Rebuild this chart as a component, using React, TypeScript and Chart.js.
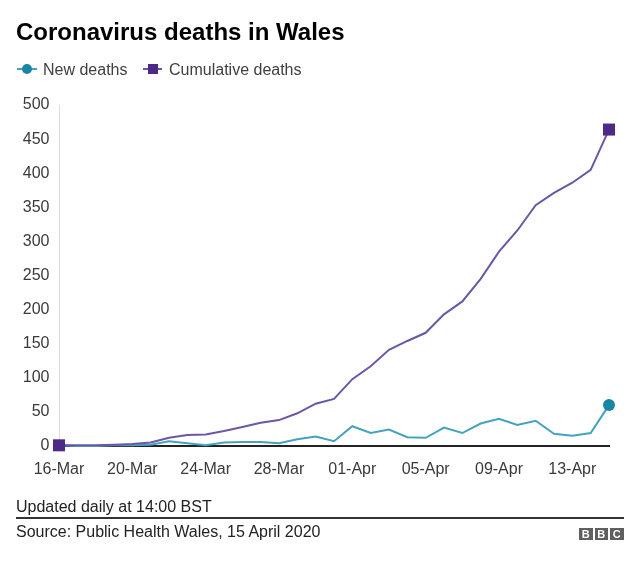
import React, { useEffect, useRef } from "react";
import { Chart, registerables } from "chart.js";

Chart.register(...registerables);

const dates: string[] = [
  "16-Mar", "17-Mar", "18-Mar", "19-Mar", "20-Mar", "21-Mar", "22-Mar", "23-Mar",
  "24-Mar", "25-Mar", "26-Mar", "27-Mar", "28-Mar", "29-Mar", "30-Mar", "31-Mar",
  "01-Apr", "02-Apr", "03-Apr", "04-Apr", "05-Apr", "06-Apr", "07-Apr", "08-Apr",
  "09-Apr", "10-Apr", "11-Apr", "12-Apr", "13-Apr", "14-Apr", "15-Apr",
];

const newDeaths: number[] = [
  1, 0, 0, 1, 1, 2, 7, 4, 1, 5, 6, 6, 4, 10, 14, 7,
  29, 19, 24, 13, 12, 27, 19, 33, 40, 31, 37, 18, 15, 19, 60,
];

const cumulativeDeaths: number[] = [
  1, 1, 1, 2, 3, 5, 12, 16, 17, 22, 28, 34, 38, 48, 62, 69,
  98, 117, 141, 154, 166, 193, 212, 245, 285, 316, 353, 371, 386, 405, 464,
];

const yTicks: number[] = [0, 50, 100, 150, 200, 250, 300, 350, 400, 450, 500];

const TEAL_LINE = "#43a3bf";
const TEAL_MARK = "#1a86a6";
const PURPLE_LINE = "#6c57a6";
const PURPLE_MARK = "#4d2a85";
const FONT = "'Liberation Sans', Arial, Helvetica, sans-serif";

export default function App() {
  const ref = useRef<HTMLCanvasElement | null>(null);

  useEffect(() => {
    if (!ref.current) return;
    const last = dates.length - 1;
    const chart = new Chart(ref.current, {
      type: "line",
      data: {
        labels: dates,
        datasets: [
          {
            label: "Cumulative deaths",
            data: cumulativeDeaths,
            borderColor: PURPLE_LINE,
            backgroundColor: PURPLE_MARK,
            borderWidth: 2,
            tension: 0,
            pointStyle: "rect",
            pointRadius: dates.map((_, i) => (i === 0 || i === last ? 8.5 : 0)),
            pointBorderWidth: 0,
            pointBackgroundColor: PURPLE_MARK,
            clip: false,
          } as any,
          {
            label: "New deaths",
            data: newDeaths,
            borderColor: TEAL_LINE,
            backgroundColor: TEAL_MARK,
            borderWidth: 2,
            tension: 0,
            pointStyle: "circle",
            pointRadius: dates.map((_, i) => (i === last ? 6 : 0)),
            pointBorderWidth: 0,
            pointBackgroundColor: TEAL_MARK,
            clip: false,
          } as any,
        ],
      },
      options: {
        animation: false,
        responsive: false,
        layout: { padding: { left: 0, top: 105, right: 31, bottom: 76 } },
        plugins: {
          legend: { display: false },
          title: { display: false },
          tooltip: { enabled: false },
        },
        scales: {
          x: {
            grid: { display: false, drawTicks: false },
            border: { display: true, color: "#222222", width: 2 },
            ticks: {
              autoSkip: false,
              maxRotation: 0,
              padding: 14,
              color: "#3a3a3a",
              font: { family: FONT, size: 16 },
              callback: (_v: any, i: number) => (i % 4 === 0 ? dates[i] : ""),
            },
            afterFit: (s: any) => {
              s.height = 40;
            },
          },
          y: {
            min: 0,
            max: 500,
            grid: { display: false, drawTicks: false },
            border: { display: true, color: "#dddddd", width: 1 },
            afterBuildTicks: (s: any) => {
              s.ticks = yTicks.map((v) => ({ value: v }));
            },
            ticks: {
              padding: 9.5,
              color: "#3a3a3a",
              font: { family: FONT, size: 16 },
            },
            afterFit: (s: any) => {
              s.width = 59;
            },
          },
        },
      },
    });
    return () => chart.destroy();
  }, []);

  const text = (
    top: number,
    left: number,
    size: number,
    content: string,
    extra: React.CSSProperties = {}
  ) => (
    <div
      style={{
        position: "absolute",
        top,
        left,
        fontFamily: FONT,
        fontSize: size,
        lineHeight: `${size}px`,
        whiteSpace: "nowrap",
        color: "#222",
        ...extra,
      }}
    >
      {content}
    </div>
  );

  return (
    <div
      style={{
        position: "absolute",
        left: 0,
        top: 0,
        width: 640,
        height: 562,
        background: "#fff",
        overflow: "hidden",
      }}
    >
      <canvas
        ref={ref}
        width={640}
        height={562}
        style={{ position: "absolute", left: 0, top: 0, width: 640, height: 562 }}
      />
      {text(19.7, 16, 24, "Coronavirus deaths in Wales", { fontWeight: "bold", color: "#000" })}

      {/* legend */}
      <div style={{ position: "absolute", left: 17, top: 67.5, width: 20, height: 2, background: TEAL_LINE }} />
      <div
        style={{
          position: "absolute",
          left: 22,
          top: 63.5,
          width: 10,
          height: 10,
          borderRadius: 5,
          background: TEAL_MARK,
        }}
      />
      {text(61.5, 43, 16, "New deaths", { color: "#404040" })}
      <div style={{ position: "absolute", left: 143, top: 68, width: 19, height: 2, background: PURPLE_LINE }} />
      <div
        style={{
          position: "absolute",
          left: 147.5,
          top: 64,
          width: 10,
          height: 10,
          background: PURPLE_MARK,
        }}
      />
      {text(61.5, 169, 16, "Cumulative deaths", { color: "#404040" })}

      {/* footer */}
      {text(498.5, 16, 16, "Updated daily at 14:00 BST")}
      <div style={{ position: "absolute", left: 16, top: 516.7, width: 608, height: 2, background: "#333" }} />
      {text(523.5, 16, 16, "Source: Public Health Wales, 15 April 2020")}
      <div style={{ position: "absolute", left: 579, top: 527.5, display: "flex", gap: 2 }}>
        {["B", "B", "C"].map((ch, i) => (
          <div
            key={i}
            style={{
              width: 13.5,
              height: 12,
              background: "#5f5f5f",
              color: "#fff",
              fontFamily: FONT,
              fontWeight: "bold",
              fontSize: 11,
              lineHeight: "12px",
              textAlign: "center",
            }}
          >
            {ch}
          </div>
        ))}
      </div>
    </div>
  );
}
